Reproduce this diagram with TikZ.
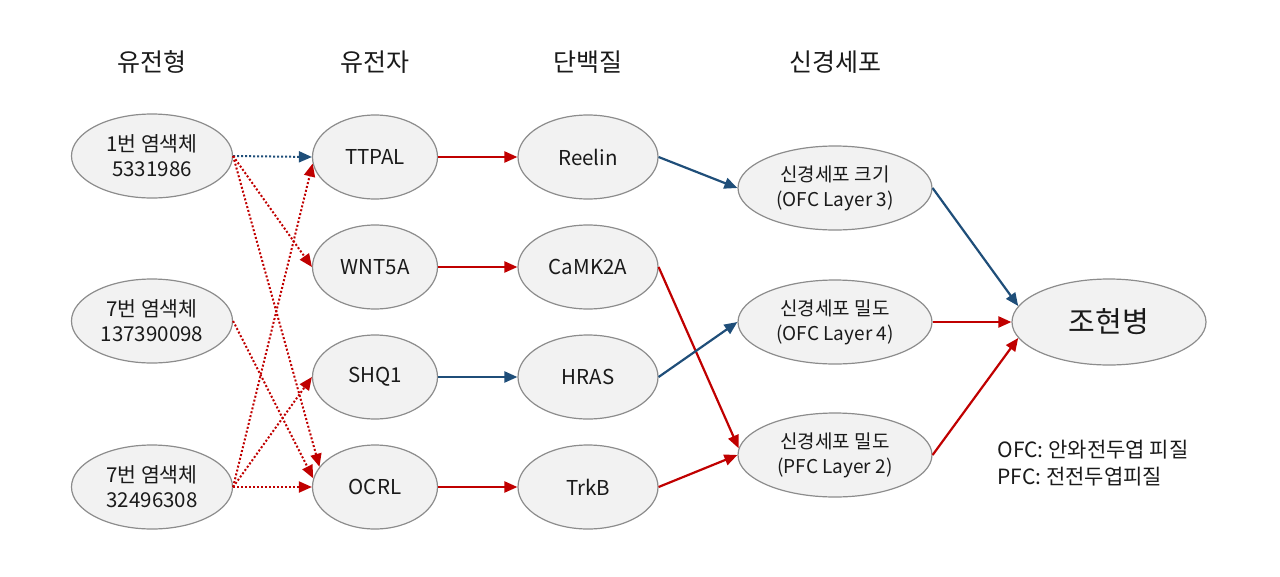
\documentclass[tikz,border=0pt]{standalone}
\usepackage{fontspec}
\setmainfont{Noto Sans CJK KR}
\usetikzlibrary{shapes.geometric,arrows.meta}
\definecolor{myred}{HTML}{C00000}
\definecolor{myblue}{HTML}{1F4E79}
\definecolor{efill}{HTML}{F2F2F2}
\definecolor{edraw}{HTML}{8C8C8C}
\definecolor{txt}{HTML}{1A1A1A}
\begin{document}
\begin{tikzpicture}[x=1pt,y=-1pt,
  ell/.style={ellipse,draw=edraw,fill=efill,line width=1.2pt,inner sep=0pt,text=txt,
    minimum height=84pt,align=center,font=\fontsize{20.5}{25}\selectfont},
  hdr/.style={font=\fontsize{25}{28}\selectfont,text=txt},
  tip/.style={-{Triangle[length=13pt,width=11pt]}},
  rsol/.style={tip,draw=myred,line width=2.2pt},
  bsol/.style={tip,draw=myblue,line width=2.2pt},
  rdot/.style={tip,draw=myred,line width=2pt,dash pattern=on 2pt off 2pt},
  bdot/.style={tip,draw=myblue,line width=2pt,dash pattern=on 2pt off 2pt}]
\useasboundingbox (0,0) rectangle (1280,576);
% headers
\node[hdr] (h1) at (152,62) {유전형};
\node[hdr] (h2) at (375,62) {유전자};
\node[hdr] (h3) at (588,62) {단백질};
\node[hdr] (h4) at (835,62) {신경세포};
% column 1
\node[ell,minimum width=161pt] (c1) at (152,156) {1번 염색체\\5331986};
\node[ell,minimum width=161pt] (c2) at (152,321) {7번 염색체\\137390098};
\node[ell,minimum width=161pt] (c3) at (152,487) {7번 염색체\\32496308};
% column 2
\node[ell,minimum width=125pt] (g1) at (375,157) {TTPAL};
\node[ell,minimum width=125pt] (g2) at (375,267) {WNT5A};
\node[ell,minimum width=125pt] (g3) at (375,377) {SHQ1};
\node[ell,minimum width=125pt] (g4) at (375,487) {OCRL};
% column 3
\node[ell,minimum width=140pt] (p1) at (588,157) {Reelin};
\node[ell,minimum width=140pt] (p2) at (588,267) {CaMK2A};
\node[ell,minimum width=140pt] (p3) at (588,377) {HRAS};
\node[ell,minimum width=140pt] (p4) at (588,487) {TrkB};
% column 4
\node[ell,minimum width=194pt,font=\fontsize{19}{25}\selectfont] (n1) at (835,188) {신경세포 크기\\(OFC Layer 3)};
\node[ell,minimum width=194pt,font=\fontsize{19}{25}\selectfont] (n2) at (835,322) {신경세포 밀도\\(OFC Layer 4)};
\node[ell,minimum width=194pt,font=\fontsize{19}{25}\selectfont] (n3) at (835,455) {신경세포 밀도\\(PFC Layer 2)};
% outcome
\node[ell,minimum width=194pt,minimum height=86pt,font=\fontsize{29}{32}\selectfont] (d) at (1109,322) {조현병};
% legend
\node[anchor=west,align=left,text=txt,font=\fontsize{21}{27}\selectfont] (leg) at (994,463) {OFC: 안와전두엽 피질\\PFC: 전전두엽피질};
% dotted arrows
\draw[bdot] (c1.east) -- (g1.west);
\draw[rdot] (c1.east) -- (g2.west);
\draw[rdot] (c1.east) -- (g4.160);
\draw[rdot] (c2.east) -- (g4.172);
\draw[rdot] (c3.east) -- (g1.186);
\draw[rdot] (c3.east) -- (g3.west);
\draw[rdot] (c3.east) -- (g4.west);
% solid arrows
\draw[rsol] (g1.east) -- (p1.west);
\draw[rsol] (g2.east) -- (p2.west);
\draw[bsol] (g3.east) -- (p3.west);
\draw[rsol] (g4.east) -- (p4.west);
\draw[bsol] (p1.east) -- (n1.west);
\draw[rsol] (p2.east) -- (n3.176);
\draw[bsol] (p3.east) -- (n2.west);
\draw[rsol] (p4.east) -- (n3.west);
\draw[bsol] (n1.east) -- (d.170);
\draw[rsol] (n2.east) -- (d.west);
\draw[rsol] (n3.east) -- (d.190);
\end{tikzpicture}
\end{document}
